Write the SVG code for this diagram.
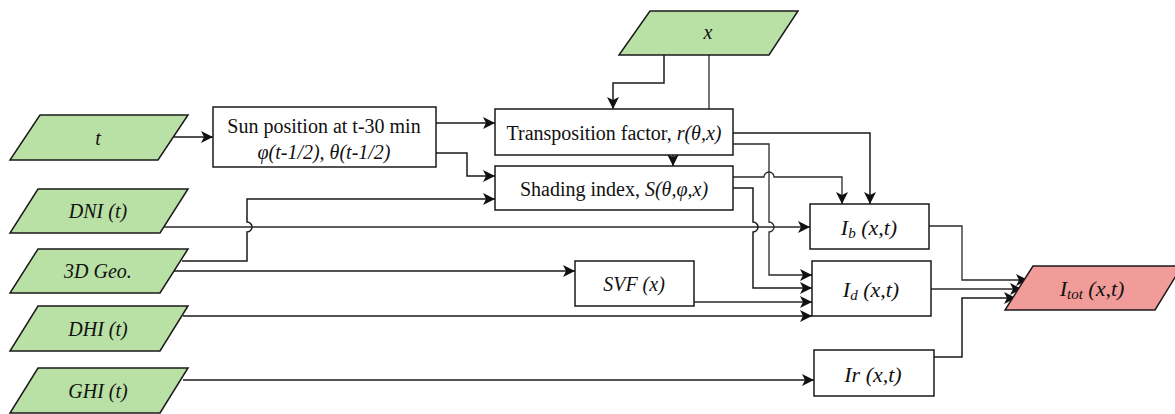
<svg xmlns="http://www.w3.org/2000/svg" width="1175" height="414" viewBox="0 0 1175 414">
<defs>
<marker id="arr" markerUnits="userSpaceOnUse" markerWidth="14" markerHeight="12" refX="12" refY="6" orient="auto">
<path d="M0,0 L12,6 L0,12 L3,6 Z" fill="#111"/>
</marker>
<style>
.inp{fill:#b9e0a5;stroke:#1a1a1a;stroke-width:1.5}
.out{fill:#f19c99;stroke:#1a1a1a;stroke-width:1.5}
.box{fill:#fff;stroke:#1a1a1a;stroke-width:1.5}
text{font-family:'Liberation Serif','Times New Roman',serif;font-size:20px;fill:#111;text-anchor:middle;dominant-baseline:central}
.i{font-style:italic}
.big{font-size:22px}
.c{fill:none;stroke:#1a1a1a;stroke-width:1.5}
.c2{fill:none;stroke:#2a2a2a;stroke-width:1.3}
</style>
</defs>
<rect width="1175" height="414" fill="#fff"/>

<g id="connectors">
<path class="c" d="M174,137 H213" marker-end="url(#arr)"/>
<path class="c" d="M436,123 H495" marker-end="url(#arr)"/>
<path class="c" d="M436,153 H467 V176 H495" marker-end="url(#arr)"/>
<path class="c" d="M182,261 H247 V232 A5 5 0 0 0 247,222 V199 H495" marker-end="url(#arr)"/>
<path class="c2" d="M163,227 H810" marker-end="url(#arr)"/>
<path class="c" d="M174,271 H575" marker-end="url(#arr)"/>
<path class="c" d="M183,316 H812" marker-end="url(#arr)"/>
<path class="c" d="M183,380 H814" marker-end="url(#arr)"/>
<path class="c" d="M664,55 V83 H613 V109" marker-end="url(#arr)"/>
<path class="c2" d="M709,55 V109"/>
<path class="c" d="M673,155 V166" marker-end="url(#arr)"/>
<path class="c" d="M733,133 H870 V204" marker-end="url(#arr)"/>
<path class="c2" d="M733,144 H769 V222 A5 5 0 0 1 769,232 V275 H812" marker-end="url(#arr)"/>
<path class="c2" d="M733,177 H764 A5 5 0 0 1 774,177 H842 V204" marker-end="url(#arr)"/>
<path class="c" d="M733,188 H753 V222 A5 5 0 0 1 753,232 V288 H812" marker-end="url(#arr)"/>
<path class="c2" d="M694,302 H812" marker-end="url(#arr)"/>
<path class="c2" d="M929,226 H962 V280 H1028" marker-end="url(#arr)"/>
<path class="c2" d="M931,289 H1022" marker-end="url(#arr)"/>
<path class="c" d="M934,357 H962 V298 H1016" marker-end="url(#arr)"/>
</g>

<g id="n-t"><polygon class="inp" points="40,115 188,115 158,160 10,160"/><text class="i" x="98" y="138">t</text></g>
<g id="n-dni"><polygon class="inp" points="38,189 188,189 160,233 10,233"/><text class="i" x="98" y="211">DNI (t)</text></g>
<g id="n-geo"><polygon class="inp" points="38,249 188,249 160,293 10,293"/><text class="i" x="98" y="271">3D Geo.</text></g>
<g id="n-dhi"><polygon class="inp" points="38,306 188,306 160,351 10,351"/><text class="i" x="98" y="329">DHI (t)</text></g>
<g id="n-ghi"><polygon class="inp" points="38,368 188,368 160,413 10,413"/><text class="i" x="98" y="391">GHI (t)</text></g>
<g id="n-x"><polygon class="inp" points="650,11 798,11 769,55 619,55"/><text class="i" x="708" y="32">x</text></g>

<g id="n-sun"><rect class="box" x="213" y="107" width="223" height="60"/>
<text x="324" y="126">Sun position at t-30 min</text>
<text class="i" x="324" y="152">φ(t-1/2), θ(t-1/2)</text></g>
<g id="n-trans"><rect class="box" x="495" y="109" width="238" height="46"/>
<text x="614" y="133">Transposition factor, <tspan class="i">r(θ,x)</tspan></text></g>
<g id="n-shade"><rect class="box" x="495" y="166" width="238" height="44"/>
<text x="614" y="189">Shading index, <tspan class="i">S(θ,φ,x)</tspan></text></g>
<g id="n-svf"><rect class="box" x="575" y="261" width="119" height="45"/>
<text class="i" x="634" y="284">SVF (x)</text></g>
<g id="n-ib"><rect class="box" x="810" y="204" width="119" height="45"/>
<text class="i big" x="869" y="227">I<tspan font-size="15" dy="6">b</tspan><tspan dy="-6"> (x,t)</tspan></text></g>
<g id="n-id"><rect class="box" x="812" y="261" width="119" height="55"/>
<text class="i big" x="871" y="289">I<tspan font-size="15" dy="6">d</tspan><tspan dy="-6"> (x,t)</tspan></text></g>
<g id="n-ir"><rect class="box" x="814" y="350" width="120" height="46"/>
<text class="i big" x="873" y="374">Ir (x,t)</text></g>
<g id="n-itot"><polygon class="out" points="1033,266 1182,266 1155,310 1005,310"/>
<text class="i big" x="1092" y="288">I<tspan font-size="15" dy="6">tot</tspan><tspan dy="-6"> (x,t)</tspan></text></g>
</svg>
